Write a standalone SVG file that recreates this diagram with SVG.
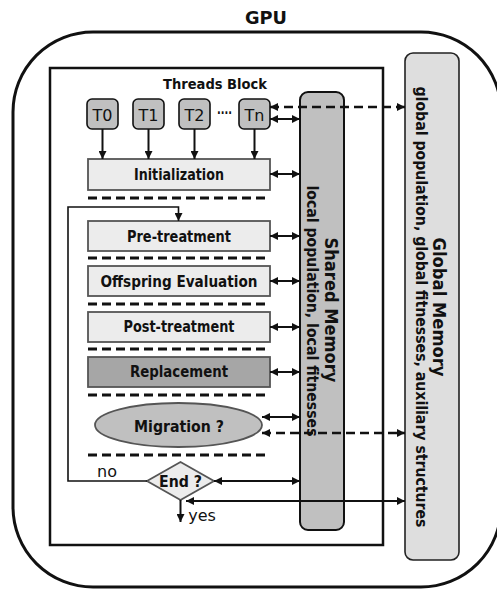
<svg xmlns="http://www.w3.org/2000/svg" width="497" height="593" viewBox="0 0 497 593">
<style>
text{font-family:"DejaVu Sans","Liberation Sans",sans-serif;fill:#111}
.b{font-weight:bold}
.box{fill:#ececec;stroke:#555;stroke-width:1.8}
.t{fill:#c0c0c0;stroke:#111;stroke-width:1.6}
.sep{stroke:#111;stroke-width:3;stroke-dasharray:9 5;fill:none}
.c{stroke:#111;stroke-width:2;fill:none}
.d{stroke:#111;stroke-width:2.5;stroke-dasharray:9 5;fill:none}
</style>
<defs>
<marker id="ah" viewBox="0 0 10 10" refX="10" refY="5" markerWidth="8" markerHeight="8" markerUnits="userSpaceOnUse" orient="auto-start-reverse">
<path d="M0,0 L10,5 L0,10 z" fill="#111"/>
</marker>
</defs>
<text class="b" x="266" y="24" font-size="17" text-anchor="middle" textLength="42" lengthAdjust="spacingAndGlyphs">GPU</text>
<rect id="gpu" x="13" y="32" width="488" height="555" rx="80" fill="none" stroke="#111" stroke-width="3"/>
<g id="threads-block">
<rect x="50" y="68" width="333" height="477" fill="none" stroke="#111" stroke-width="2.5"/>
<text class="b" x="215" y="89" font-size="14" text-anchor="middle" textLength="104" lengthAdjust="spacingAndGlyphs">Threads Block</text>
</g>
<g id="global-memory">
<rect x="405" y="53" width="54" height="507" rx="8" fill="#dedede" stroke="#222" stroke-width="1.6"/>
<text class="b" font-size="18" text-anchor="middle" transform="translate(433,307) rotate(90)" textLength="139" lengthAdjust="spacingAndGlyphs">Global Memory</text>
<text class="b" font-size="15" text-anchor="middle" transform="translate(416,307) rotate(90)" textLength="441" lengthAdjust="spacingAndGlyphs">global population, global fitnesses, auxiliary structures</text>
</g>
<g id="shared-memory">
<rect x="300" y="92" width="44" height="438" rx="8" fill="#c0c0c0" stroke="#111" stroke-width="2"/>
<text class="b" font-size="18" text-anchor="middle" transform="translate(325,310) rotate(90)" textLength="145" lengthAdjust="spacingAndGlyphs">Shared Memory</text>
<text class="b" font-size="15" text-anchor="middle" transform="translate(307,311) rotate(90)" textLength="251" lengthAdjust="spacingAndGlyphs">local population, local fitnesses</text>
</g>
<g id="t0"><rect class="t" x="87" y="99" width="31" height="30" rx="5"/><text x="102.5" y="121" font-size="16" text-anchor="middle">T0</text></g>
<g id="t1"><rect class="t" x="133" y="99" width="31" height="30" rx="5"/><text x="148.5" y="121" font-size="16" text-anchor="middle">T1</text></g>
<g id="t2"><rect class="t" x="179" y="99" width="31" height="30" rx="5"/><text x="194.5" y="121" font-size="16" text-anchor="middle">T2</text></g>
<text class="b" x="224.5" y="118" font-size="14" text-anchor="middle" textLength="15" lengthAdjust="spacingAndGlyphs">····</text>
<g id="tn"><rect class="t" x="239" y="99" width="31" height="30" rx="5"/><text x="254.5" y="121" font-size="16" text-anchor="middle">Tn</text></g>
<g id="initialization"><rect class="box" x="88" y="159" width="182" height="31"/><text class="b" x="179" y="180" font-size="15" text-anchor="middle" textLength="90" lengthAdjust="spacingAndGlyphs">Initialization</text></g>
<g id="pre-treatment"><rect class="box" x="88" y="221" width="182" height="30"/><text class="b" x="179" y="242" font-size="15" text-anchor="middle" textLength="104" lengthAdjust="spacingAndGlyphs">Pre-treatment</text></g>
<g id="offspring-evaluation"><rect class="box" x="88" y="266" width="182" height="30"/><text class="b" x="179" y="287" font-size="15" text-anchor="middle" textLength="157" lengthAdjust="spacingAndGlyphs">Offspring Evaluation</text></g>
<g id="post-treatment"><rect class="box" x="88" y="312" width="182" height="30"/><text class="b" x="179" y="332" font-size="15" text-anchor="middle" textLength="111" lengthAdjust="spacingAndGlyphs">Post-treatment</text></g>
<g id="replacement"><rect x="88" y="357" width="182" height="30" fill="#a6a6a6" stroke="#555" stroke-width="1.8"/><text class="b" x="179" y="377" font-size="15" text-anchor="middle" textLength="98" lengthAdjust="spacingAndGlyphs">Replacement</text></g>
<g id="migration"><ellipse cx="178.5" cy="425" rx="83.5" ry="22" fill="#c0c0c0" stroke="#555" stroke-width="1.8"/><text class="b" x="179" y="432" font-size="16" text-anchor="middle" textLength="90" lengthAdjust="spacingAndGlyphs">Migration ?</text></g>
<g id="end"><path d="M147,481 L180.5,462 L214,481 L180.5,500 z" fill="#ececec" stroke="#555" stroke-width="1.8"/><text class="b" x="180.5" y="487" font-size="15" text-anchor="middle" textLength="43" lengthAdjust="spacingAndGlyphs">End ?</text></g>
<g id="separators">
<line class="sep" x1="88" y1="198" x2="270" y2="198"/>
<line class="sep" x1="88" y1="258" x2="270" y2="258"/>
<line class="sep" x1="88" y1="304" x2="270" y2="304"/>
<line class="sep" x1="88" y1="349" x2="270" y2="349"/>
<line class="sep" x1="88" y1="395" x2="270" y2="395"/>
<line class="sep" x1="88" y1="455" x2="270" y2="455"/>
</g>
<g id="connectors">
<line class="c" x1="102.5" y1="129" x2="102.5" y2="159" marker-end="url(#ah)"/>
<line class="c" x1="148.5" y1="129" x2="148.5" y2="159" marker-end="url(#ah)"/>
<line class="c" x1="194.5" y1="129" x2="194.5" y2="159" marker-end="url(#ah)"/>
<line class="c" x1="254.5" y1="129" x2="254.5" y2="159" marker-end="url(#ah)"/>
<line class="d" x1="270" y1="107" x2="405" y2="107" marker-start="url(#ah)" marker-end="url(#ah)"/>
<line class="c" x1="270" y1="119" x2="300" y2="119" marker-start="url(#ah)" marker-end="url(#ah)"/>
<line class="c" x1="270" y1="174" x2="300" y2="174" marker-start="url(#ah)" marker-end="url(#ah)"/>
<line class="c" x1="270" y1="236" x2="300" y2="236" marker-start="url(#ah)" marker-end="url(#ah)"/>
<line class="c" x1="270" y1="281" x2="300" y2="281" marker-start="url(#ah)" marker-end="url(#ah)"/>
<line class="c" x1="270" y1="327" x2="300" y2="327" marker-start="url(#ah)" marker-end="url(#ah)"/>
<line class="c" x1="270" y1="372" x2="300" y2="372" marker-start="url(#ah)" marker-end="url(#ah)"/>
<line class="c" x1="262" y1="417" x2="300" y2="417" marker-start="url(#ah)" marker-end="url(#ah)"/>
<line class="d" x1="262" y1="433" x2="405" y2="433" marker-start="url(#ah)" marker-end="url(#ah)"/>
<line class="c" x1="214" y1="481" x2="300" y2="481" marker-start="url(#ah)" marker-end="url(#ah)"/>
<line class="c" x1="186" y1="501" x2="405" y2="501" marker-start="url(#ah)" marker-end="url(#ah)"/>
<path d="M147,481 H68 V207 H178.5 V221" stroke="#111" stroke-width="1.6" fill="none" marker-end="url(#ah)"/>
<line class="c" x1="180.5" y1="500" x2="180.5" y2="522" marker-end="url(#ah)"/>
</g>
<text x="107" y="477" font-size="16" text-anchor="middle">no</text>
<text x="202" y="521" font-size="16" text-anchor="middle">yes</text>
</svg>
